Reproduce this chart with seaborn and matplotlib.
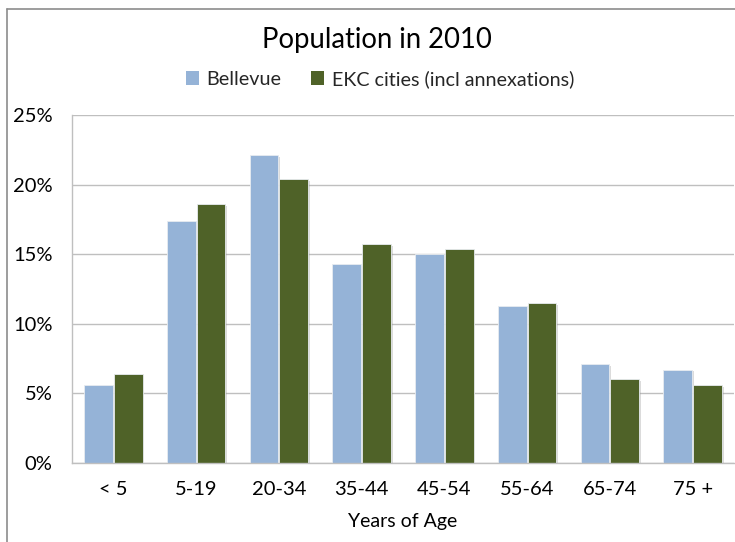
import matplotlib
matplotlib.use("Agg")
import matplotlib.pyplot as plt
import matplotlib.patheffects as pe
from matplotlib.lines import Line2D
from matplotlib.ticker import FuncFormatter, MultipleLocator
import seaborn as sns
import pandas as pd

ages = ["< 5", "5-19", "20-34", "35-44", "45-54", "55-64", "65-74", "75 +"]
bellevue = [5.6, 17.4, 22.1, 14.3, 15.0, 11.3, 7.1, 6.7]
ekc = [6.4, 18.6, 20.4, 15.7, 15.4, 11.5, 6.0, 5.6]
series_names = ["Bellevue", "EKC cities (incl annexations)"]
colors = ["#95B3D7", "#4F6228"]

df = pd.DataFrame({
    "age": ages * 2,
    "value": bellevue + ekc,
    "series": [series_names[0]] * len(ages) + [series_names[1]] * len(ages),
})

sns.set_theme(style="white")
plt.rcParams["font.family"] = ["Lato", "DejaVu Sans"]

fig = plt.figure(figsize=(7.35, 5.42), dpi=100)
ax = fig.add_axes([72 / 735, 1 - 463 / 542, 662 / 735, 348 / 542])

sns.barplot(data=df, x="age", y="value", hue="series", order=ages,
            hue_order=series_names, palette=colors, saturation=1, width=0.72, gap=0.03,
            edgecolor="#E8ECF0", linewidth=0.6, ax=ax, legend=False)

for p in ax.patches:
    p.set_path_effects([pe.SimplePatchShadow(offset=(1.2, -1.2), shadow_rgbFace="#999999", alpha=0.35),
                        pe.Normal()])

ax.set_ylim(0, 25)
ax.set_xlim(-0.5, len(ages) - 0.5)
ax.yaxis.set_major_locator(MultipleLocator(5))
ax.yaxis.set_major_formatter(FuncFormatter(lambda v, _: f"{v:.0f}%"))
ax.grid(axis="y", color="#BFBFBF", linewidth=1.0)
ax.set_axisbelow(True)
for s in ["top", "right"]:
    ax.spines[s].set_visible(False)
for s in ["left", "bottom"]:
    ax.spines[s].set_color("#BFBFBF")
    ax.spines[s].set_linewidth(1.0)
ax.tick_params(axis="y", length=0, pad=14, labelsize=14.5, labelcolor="black")
ax.tick_params(axis="x", length=0, pad=13, labelsize=14.5, labelcolor="black")
ax.set_ylabel("")
ax.set_xlabel("Years of Age", fontsize=14, color="black", labelpad=11)

fig.text(377 / 735, 1 - 40 / 542, "Population in 2010", ha="center", va="center",
         fontsize=19.8, color="black")

handles = [plt.Rectangle((0, 0), 1, 1, facecolor=c, edgecolor="none") for c in colors]
fig.legend(handles, series_names, loc="center", bbox_to_anchor=(380 / 735, 1 - 79 / 542),
           ncol=2, frameon=False, fontsize=14.2, handlelength=0.65, handleheight=0.65,
           handletextpad=0.4, columnspacing=1.5)

# outer chart frame
fig.add_artist(Line2D([7 / 735, 7 / 735], [0, 1 - 9 / 542], transform=fig.transFigure,
                      color="#8C8C8C", linewidth=1.2))
fig.add_artist(Line2D([7 / 735, 1], [1 - 9 / 542, 1 - 9 / 542], transform=fig.transFigure,
                      color="#8C8C8C", linewidth=1.2))

fig.savefig("out.png", dpi=100, facecolor="white")
